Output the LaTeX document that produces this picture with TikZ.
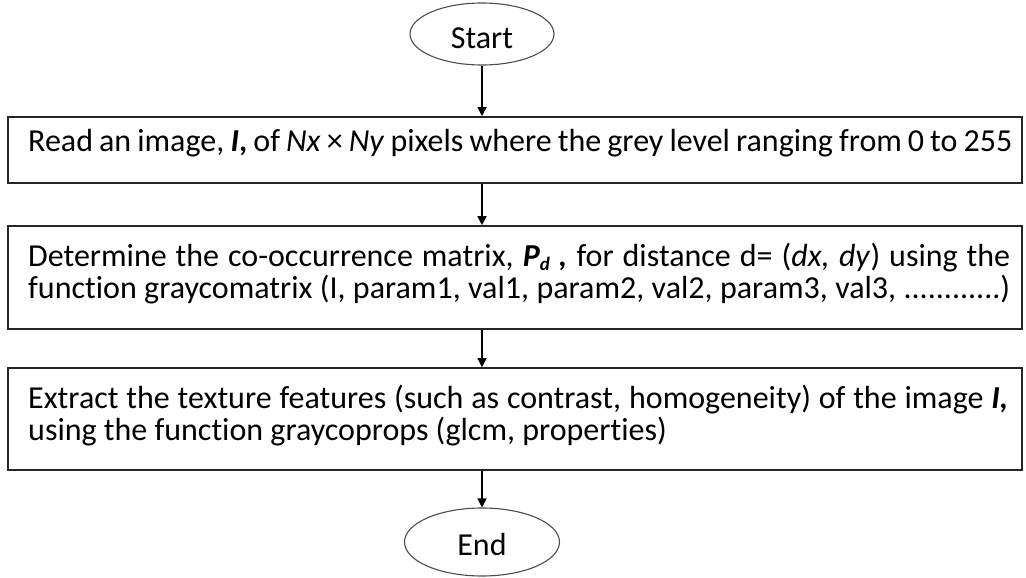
\documentclass[tikz,border=0pt]{standalone}
\usepackage{fontspec}
\setmainfont[Ligatures={NoCommon}]{Carlito}
\usetikzlibrary{arrows.meta,shapes.geometric}
\newcommand{\smallsub}[1]{\raisebox{-4pt}{\fontsize{19}{19}\selectfont #1}}
\begin{document}
\begin{tikzpicture}[x=1pt,y=-1pt,
  stepbox/.style={draw=black!85, line width=1.6pt, rectangle, minimum width=1014pt, inner sep=0pt},
  term/.style={draw=black!70, line width=1.1pt, ellipse, inner sep=0pt},
  txt/.style={inner sep=0pt, font=\fontsize{32}{32}\selectfont},
  link/.style={draw=black, line width=1.4pt, -{Triangle[length=9pt,width=9pt]}}]
\useasboundingbox (0,0) rectangle (1026,578);

% terminals
\node[term, minimum width=144pt, minimum height=62pt] (start) at (482,34) {};
\node[txt, anchor=base] (starttxt) at (482,49) {Start};
\node[term, minimum width=155pt, minimum height=68pt] (end) at (482,542) {};
\node[txt, anchor=base] (endtxt) at (482,555) {End};

% process steps
\node[stepbox, minimum height=66pt] (read) at (515,150) {};
\node[txt, anchor=base west] (readtxt) at (28,151)
  {\hbox to 984pt{Read an image, \textbf{\textit{I},} of \textit{Nx} × \textit{Ny} pixels where the grey level ranging from 0 to 255}};

\node[stepbox, minimum height=103pt] (glcm) at (515,277.5) {};
\node[txt, anchor=base west] (glcmtxt) at (28,266)
  {\vtop{\hbox to 982pt{Determine the co-occurrence matrix, \textbf{\textit{P\smallsub{d} ,}} for distance d= (\textit{dx, dy}) using the}
         \hbox to 982pt{function graycomatrix (I, param1, val1, param2, val2, param3, val3, ............)}}};

\node[stepbox, minimum height=102pt] (feat) at (515,419) {};
\node[txt, anchor=base west] (feattxt) at (28,408)
  {\vtop{\hbox to 980pt{Extract the texture features (such as contrast, homogeneity) of the image \textbf{\textit{I,}}}
         \hbox{using the function graycoprops (glcm, properties)}}};

% connectors
\draw[link] (start.south) -- (start.south |- read.north);
\draw[link] (read.south -| start.south) -- (glcm.north -| start.south);
\draw[link] (glcm.south -| start.south) -- (feat.north -| start.south);
\draw[link] (feat.south -| end.north) -- (end.north);
\end{tikzpicture}
\end{document}
